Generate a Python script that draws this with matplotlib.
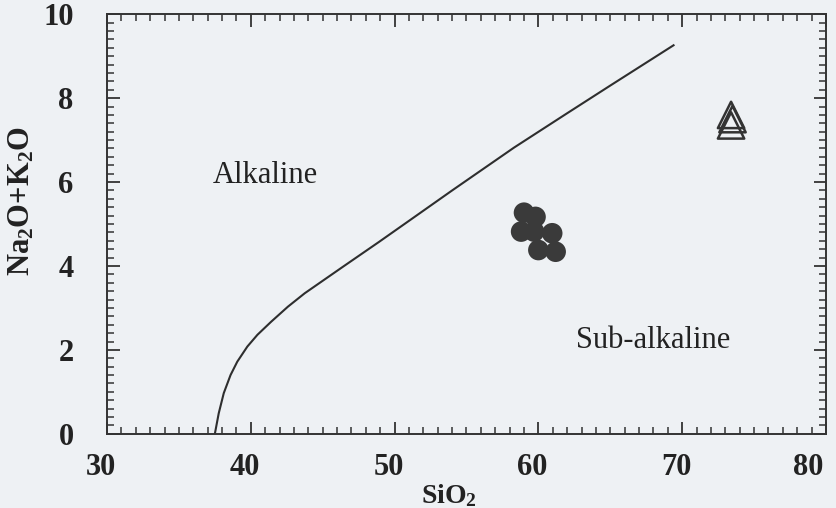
import matplotlib
matplotlib.use("Agg")
import matplotlib.pyplot as plt
from matplotlib.ticker import MultipleLocator
from matplotlib.transforms import ScaledTranslation

plt.rcParams['font.family'] = ['Liberation Serif', 'DejaVu Serif']
plt.rcParams['mathtext.fontset'] = 'custom'
plt.rcParams['mathtext.rm'] = 'Liberation Serif:bold'
plt.rcParams['mathtext.bf'] = 'Liberation Serif:bold'
plt.rcParams['mathtext.default'] = 'bf'

# Alkaline / sub-alkaline dividing curve
curve_sio2 = [37.5, 37.77, 38.12, 38.59, 39.06, 39.76, 40.46, 41.41, 42.58, 43.75,
              46.4, 48.9, 51.1, 54.0, 58.3, 62.0, 65.0, 69.4]
curve_alk = [0.0, 0.49, 0.97, 1.40, 1.72, 2.08, 2.36, 2.67, 3.03, 3.35,
             3.98, 4.57, 5.10, 5.80, 6.82, 7.64, 8.30, 9.26]

# Filled circles
circ_sio2 = [59.0, 59.8, 58.8, 59.7, 60.96, 60.0, 61.2]
circ_alk = [5.27, 5.17, 4.82, 4.82, 4.78, 4.38, 4.34]

# Open triangles
tri_sio2 = [73.4, 73.5, 73.4]
tri_alk = [7.6, 7.5, 7.35]

xticks = [30, 40, 50, 60, 70, 80]
yticks = [0, 2, 4, 6, 8, 10]

bg = '#eef1f4'
fig = plt.figure(figsize=(8.36, 5.08), dpi=100, facecolor=bg)
ax = fig.add_axes([0.128, 0.146, 0.860, 0.826], facecolor=bg)

ax.plot(curve_sio2, curve_alk, color='#2e2e2e', lw=1.5, zorder=2)
ax.scatter(circ_sio2, circ_alk, s=220, color='#3a3a3a', edgecolors='none', zorder=3)
ax.scatter(tri_sio2, tri_alk, s=360, marker='^', facecolors='none', edgecolors='#333333',
           linewidths=1.8, zorder=3)

ax.text(41.0, 6.15, 'Alkaline', fontsize=22, ha='center', va='center', color='#222222')
ax.text(68.0, 2.22, 'Sub-alkaline', fontsize=22, ha='center', va='center', color='#222222')

ax.set_xlim(30, 80)
ax.set_ylim(0, 10)
ax.set_xticks(xticks)
ax.set_yticks(yticks)
ax.xaxis.set_minor_locator(MultipleLocator(1))
ax.yaxis.set_minor_locator(MultipleLocator(0.2))
ax.tick_params(which='both', direction='in', top=True, right=True, color='#333333')
ax.tick_params(which='major', length=9, width=1.3)
ax.tick_params(which='minor', length=5, width=1.1)
ax.tick_params(axis='x', which='major', pad=14)
ax.tick_params(axis='y', which='major', pad=24)
for lab in ax.get_xticklabels() + ax.get_yticklabels():
    lab.set_fontsize(22)
    lab.set_fontweight('bold')
    lab.set_color('#222222')

xlabs = ax.get_xticklabels()
for i, lab in enumerate(xlabs):
    dx = -18 if i == len(xlabs) - 1 else -6
    lab.set_transform(lab.get_transform() + ScaledTranslation(dx / 100, 0, fig.dpi_scale_trans))

for sp in ax.spines.values():
    sp.set_linewidth(1.4)
    sp.set_color('#333333')

ax.set_xlabel('SiO$_2$', fontsize=20, fontweight='bold', color='#222222')
ax.xaxis.set_label_coords(0.475, -0.115)
ax.set_ylabel('Na$_2$O+K$_2$O', fontsize=22, fontweight='bold', color='#222222')
ax.yaxis.set_label_coords(-0.098, 0.555)

fig.savefig('out.png', dpi=100, facecolor=bg)
